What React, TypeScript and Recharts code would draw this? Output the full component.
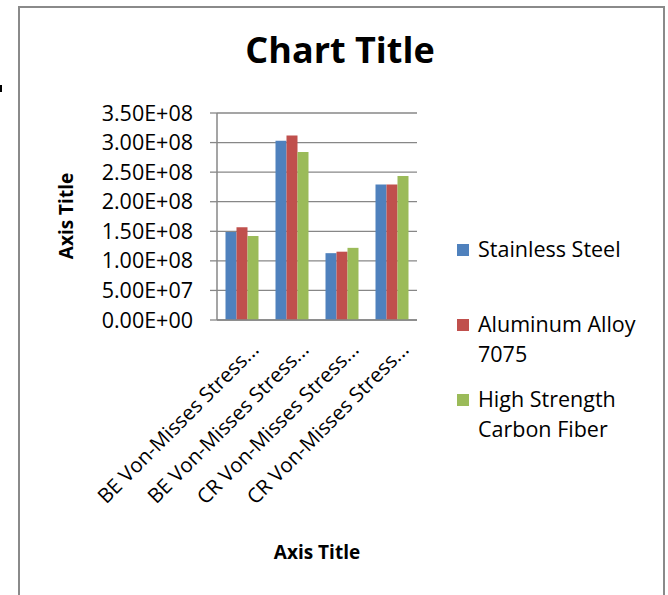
// @ts-nocheck
import React from 'react';
import { BarChart, Bar, XAxis, YAxis, CartesianGrid, Legend } from 'recharts';

const categories = [
  'BE Von-Misses Stress...',
  'BE Von-Misses Stress...',
  'CR Von-Misses Stress...',
  'CR Von-Misses Stress...',
];
const stainlessSteel = [1.49e8, 3.03e8, 1.13e8, 2.29e8];
const aluminumAlloy = [1.57e8, 3.12e8, 1.155e8, 2.29e8];
const carbonFiber = [1.42e8, 2.84e8, 1.22e8, 2.435e8];
const yTicks = [0, 5e7, 1e8, 1.5e8, 2e8, 2.5e8, 3e8, 3.5e8];

const SERIES = [
  { key: 'steel', name: 'Stainless Steel', color: '#4F81BD', values: stainlessSteel },
  { key: 'alu', name: 'Aluminum Alloy 7075', color: '#C0504D', values: aluminumAlloy },
  { key: 'carbon', name: 'High Strength Carbon Fiber', color: '#9BBB59', values: carbonFiber },
];

const FONT = '"Open Sans", Lato, sans-serif';
const GRID = '#878787';

const chartData = categories.map((c, i) => {
  const row = { category: c, idx: i };
  SERIES.forEach(s => { row[s.key] = s.values[i]; });
  return row;
});

const fmtSci = (v) => {
  if (v === 0) return '0.00E+00';
  const [m, e] = v.toExponential(2).split('e');
  const n = parseInt(e, 10);
  return `${m}E${n < 0 ? '-' : '+'}${String(Math.abs(n)).padStart(2, '0')}`;
};

const XTick = ({ x, y, payload }) => (
  <text
    x={x + 18}
    y={y + 31}
    transform={`rotate(-45, ${x + 18}, ${y + 31})`}
    textAnchor="end"
    fontFamily={FONT}
    fontSize={20.5}
    fill="#000"
  >
    {payload.value}
  </text>
);

const LegendBox = () => (
  <div style={{ position: 'relative', width: 200, height: 240, fontFamily: FONT, fontSize: 21.5, lineHeight: '30px', color: '#000' }}>
    {SERIES.map((s, i) => (
      <div key={s.key} style={{ position: 'absolute', left: 0, top: i * 75, width: 200 }}>
        <div style={{ position: 'absolute', left: 0, top: 10, width: 12, height: 12, background: s.color }} />
        <div style={{ marginLeft: 21, width: 185 }}>{s.name}</div>
      </div>
    ))}
  </div>
);

export default function App() {
  return (
    <div style={{ position: 'absolute', left: 0, top: 0, width: 668, height: 595, background: '#fff', overflow: 'hidden' }}>
      {/* chart frame */}
      <div style={{ position: 'absolute', left: 18, top: 6, width: 647, height: 620, border: '2px solid #8a8a8a', boxSizing: 'border-box' }} />
      <div style={{ position: 'absolute', left: 0, top: 85, width: 2, height: 7, background: '#000' }} />

      <BarChart
        width={668}
        height={595}
        data={chartData}
        margin={{ top: 113, right: 251, bottom: 75, left: 0 }}
        barCategoryGap="17%"
        barGap={0}
        style={{ position: 'absolute', left: 0, top: 0 }}
      >
        <CartesianGrid vertical={false} stroke={GRID} strokeWidth={1.3} />
        <XAxis
          dataKey="category"
          interval={0}
          height={200}
          tick={<XTick />}
          tickLine={false}
          tickSize={0}
          tickMargin={0}
          axisLine={{ stroke: GRID, strokeWidth: 1.5 }}
        />
        <YAxis
          width={217}
          domain={[0, 3.5e8]}
          ticks={yTicks}
          interval={0}
          tickFormatter={fmtSci}
          tick={{ fontFamily: FONT, fontSize: 21.5, fill: '#000' }}
          tickSize={7}
          tickMargin={17}
          tickLine={{ stroke: GRID, strokeWidth: 1.3 }}
          axisLine={{ stroke: GRID, strokeWidth: 1.5 }}
        />
        <Legend
          layout="vertical"
          align="center"
          verticalAlign="middle"
          content={<LegendBox />}
          wrapperStyle={{ left: 457, top: 234, width: 200 }}
        />
        {SERIES.map(s => (
          <Bar key={s.key} dataKey={s.key} name={s.name} fill={s.color} isAnimationActive={false} />
        ))}
      </BarChart>

      {/* titles */}
      <div style={{ position: 'absolute', left: 140, top: 25, width: 400, textAlign: 'center', fontFamily: FONT, fontWeight: 700, fontSize: 36, color: '#000' }}>
        Chart Title
      </div>
      <div style={{ position: 'absolute', left: 217, top: 539, width: 200, textAlign: 'center', fontFamily: FONT, fontWeight: 700, fontSize: 19, color: '#000' }}>
        Axis Title
      </div>
      <div style={{ position: 'absolute', left: 66, top: 216, transform: 'translate(-50%, -50%) rotate(-90deg)', whiteSpace: 'nowrap', fontFamily: FONT, fontWeight: 700, fontSize: 19, color: '#000' }}>
        Axis Title
      </div>
    </div>
  );
}
